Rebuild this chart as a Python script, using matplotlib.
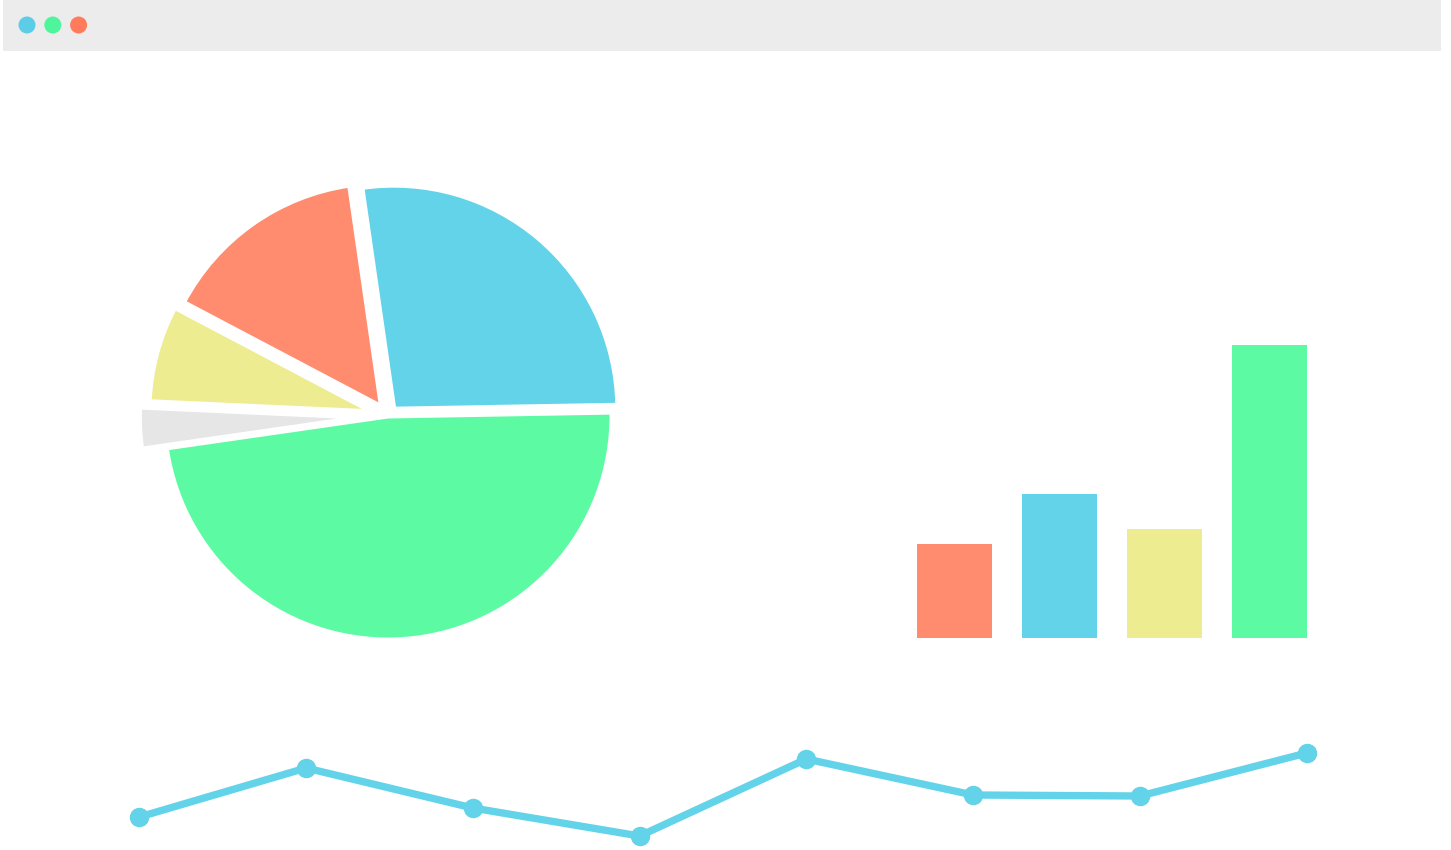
import matplotlib
matplotlib.use("Agg")
import matplotlib.pyplot as plt
from matplotlib.patches import Rectangle, Circle

W, H = 1451, 850

# pie slices, counterclockwise from the right
pie_labels = ["blue", "orange", "yellow", "gray", "green"]
pie_values = [27, 15, 7, 3, 48]
pie_explode = [0.04, 0.05, 0.07, 0.11, 0.0]
pie_colors = ["#62d3e8", "#ff8c6e", "#eeec91", "#e6e6e6", "#5cfba3"]

# bars
bar_values = [32, 49, 37, 100]
bar_colors = ["#ff8c6e", "#62d3e8", "#eeec91", "#5cfba3"]

# line
line_values = [33, 82, 42, 14, 91, 55, 54, 97]
line_color = "#62d3e8"

# window dots in the title bar
dot_colors = ["#5ccde6", "#4ef59a", "#ff7b5c"]


def px_axes(fig, left, top, width, height):
    # axes placed by pixel box (top measured from the top of the figure)
    return fig.add_axes([left / W, (H - top - height) / H, width / W, height / H])


fig = plt.figure(figsize=(W / 100, H / 100), dpi=100)
fig.patch.set_facecolor("white")

# title bar + dots (inch coords so the dots stay round)
fig.add_artist(Rectangle((0.03, (H - 51) / 100), 14.38, 0.51,
                         transform=fig.dpi_scale_trans, facecolor="#ececec",
                         edgecolor="none"))
for i, c in enumerate(dot_colors):
    fig.add_artist(Circle(((27 + 25.8 * i) / 100, (H - 25) / 100), 0.085,
                          transform=fig.dpi_scale_trans, facecolor=c,
                          edgecolor="none"))

# pie: centre (388, 416) px, radius ~225 px
lim = 1.3
size = 2 * lim * 224
ax1 = px_axes(fig, 388 - size / 2, 416 - size / 2, size, size)
ax1.pie(pie_values, colors=pie_colors, explode=pie_explode, startangle=1,
        counterclock=True, radius=1,
        wedgeprops=dict(edgecolor="white", linewidth=3.6))
ax1.set_xlim(-lim, lim)
ax1.set_ylim(-lim, lim)
ax1.set_aspect("equal")
ax1.axis("off")

# bars
ax2 = px_axes(fig, 901.7, 345, 420, 292.5)
ax2.bar(range(len(bar_values)), bar_values, width=0.714, color=bar_colors,
        clip_on=False)
ax2.set_xlim(-0.5, 3.5)
ax2.set_ylim(0, 100)
ax2.axis("off")

# line
ax3 = px_axes(fig, 139.3, 750, 1167.4, 100)
ax3.plot(range(len(line_values)), line_values, color=line_color, lw=5.3,
         marker="o", ms=13, solid_joinstyle="round", solid_capstyle="round",
         clip_on=False)
ax3.set_xlim(0, 7)
ax3.set_ylim(0, 100)
ax3.axis("off")

fig.savefig("out.png", dpi=100, facecolor="white")
